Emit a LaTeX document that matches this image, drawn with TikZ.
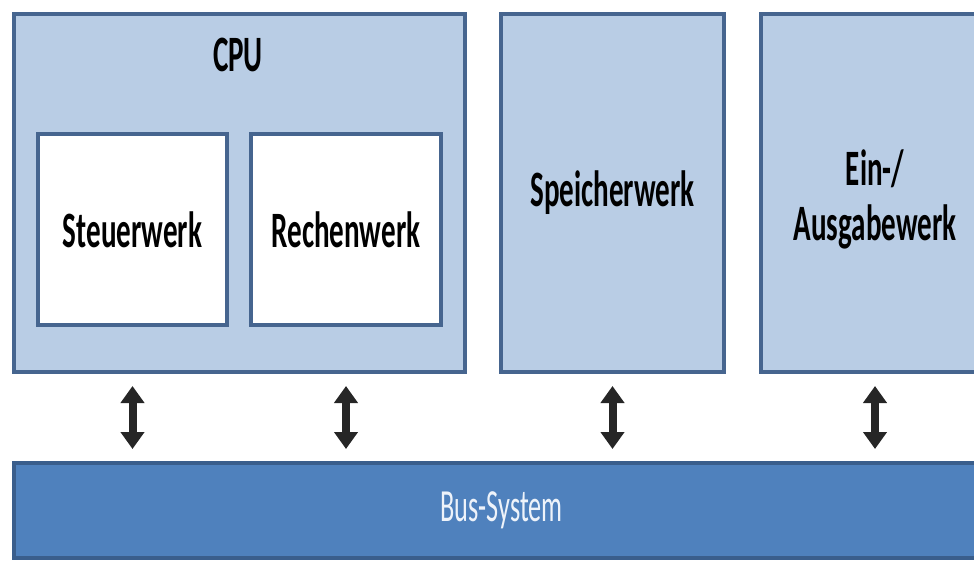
\documentclass[tikz,border=0pt]{standalone}
\usepackage{fontspec}
\setmainfont{Carlito}[FakeStretch=0.57]
\usetikzlibrary{arrows.meta}
\definecolor{unitfill}{HTML}{B9CDE5}
\definecolor{unitline}{HTML}{46658F}
\definecolor{busfill}{HTML}{4F81BD}
\definecolor{busline}{HTML}{3A5E8C}
\definecolor{arrowgray}{HTML}{262626}
\definecolor{bustext}{HTML}{EEF3FA}
\begin{document}
\begin{tikzpicture}[x=1pt,y=-1pt,
  unit/.style={draw=unitline, fill=unitfill, line width=4pt, anchor=north west,
    inner sep=0pt, font=\bfseries\fontsize{51}{55}\selectfont, align=center},
  subunit/.style={unit, fill=white},
  title/.style={font=\bfseries\fontsize{51}{55}\selectfont, align=center, inner sep=0pt},
  busbar/.style={draw=busline, fill=busfill, line width=4pt, anchor=north west,
    inner sep=0pt, text=bustext, font=\fontsize{46}{50}\selectfont},
  link/.style={draw=arrowgray, line width=8pt,
    {Triangle[width=23pt,length=17pt]}-{Triangle[width=23pt,length=17pt]},
    shorten <=12pt, shorten >=12pt}]
  \useasboundingbox (0,0) rectangle (974,560);

  % processor with its two inner units
  \node[unit, minimum width=451pt, minimum height=358pt] (cpu) at (12,12) {};
  \node[title] (cputitle) at (238,55) {CPU};
  \node[subunit, minimum width=189pt, minimum height=191pt] (steuer) at (36,132) {Steuerwerk};
  \node[subunit, minimum width=190pt, minimum height=191pt] (rechen) at (249,132) {Rechenwerk};

  % memory and I/O units
  \node[unit, minimum width=223pt, minimum height=358pt] (speicher) at (499,12) {Speicherwerk};
  \node[unit, minimum width=228pt, minimum height=358pt] (io) at (759,12) {};
  \node[title] (iotitle) at ([yshift=-6pt]io.center) {Ein-/\\Ausgabewerk};

  % system bus
  \node[busbar, minimum width=975pt, minimum height=95pt] (bus) at (12,461) {Bus-System};

  % bidirectional links to the bus
  \draw[link] (cpu.south -| steuer.south) -- (bus.north -| steuer.south);
  \draw[link] (cpu.south -| rechen.south) -- (bus.north -| rechen.south);
  \draw[link] (speicher.south) -- (bus.north -| speicher.south);
  \draw[link] (io.south) -- (bus.north -| io.south);
\end{tikzpicture}
\end{document}
